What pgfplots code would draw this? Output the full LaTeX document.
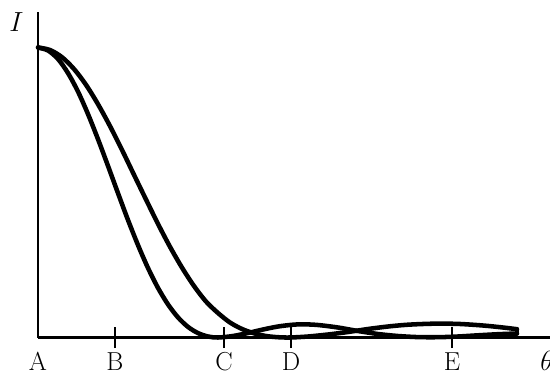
\documentclass[border=0pt]{standalone}
\usepackage{pgfplots}
\pgfplotsset{compat=1.18}
\begin{document}
\begin{tikzpicture}
\begin{axis}[
  x=0.75pt, y=0.75pt,
  xmin=0, xmax=512, ymin=0, ymax=325.5,
  axis lines=left,
  axis line style={-, line width=1.8pt, black},
  clip=false,
  ytick=\empty,
  xtick={77,186,253,414},
  xticklabels={B,C,D,E},
  extra x ticks={0},
  extra x tick labels={A},
  extra x tick style={major tick length=0pt, xticklabel style={yshift=-7.9pt}},
  tick align=center,
  major tick length=15.75pt,
  tick style={line width=1.8pt, black},
  xticklabel style={font=\fontsize{19.5}{23}\selectfont, anchor=base, yshift=-16.5pt},
]
% narrow pattern
\addplot[black, line width=3.4pt, smooth, line cap=round, line join=round] coordinates {
(0,290) (10,287) (20,278.5) (30,264.4) (40,245.9) (50,223.4) (60,198.3) (70,171.6)
(80,144.3) (90,117.5) (100,92.4) (110,69.5) (120,49.6) (130,33.1) (140,20.1)
(150,10.6) (160,4.4) (170,1) (180,0) (195,1.5) (210,4.5) (225,8) (240,11)
(255,12.8) (265,13.2) (280,12.5) (300,10) (320,6.5) (340,3.5) (360,1.5)
(380,0.4) (400,0.3) (420,1) (440,2.2) (460,3.3) (479,4)
};
% wide pattern
\addplot[black, line width=3.4pt, smooth, line cap=round, line join=round] coordinates {
(0,290) (12,287.5) (24,280.3) (36,268.5) (48,252.7) (60,233.3) (72,211.4)
(84,187.6) (96,162.7) (108,138) (120,113.6) (132,90.7) (144,69.9) (156,51.5)
(168,36) (180,24.5) (192,15) (204,8.5) (216,4.2) (228,1.5) (240,0.3) (252,0)
(270,1) (290,3) (310,5.5) (330,8.5) (350,11) (370,12.8) (395,13.8) (420,13.6)
(445,12) (465,10) (479,8.3)
};
\addplot[black, line width=3.4pt, line cap=round] coordinates {(479,4) (479,8.3)};
\node[font=\fontsize{19.5}{23}\selectfont, inner sep=0pt] at (axis cs:-21.5,315) {$I$};
\node[font=\fontsize{19.5}{23}\selectfont, inner sep=0pt, anchor=west] at (axis cs:502,-23.5) {$\theta$};
\end{axis}
\pgfresetboundingbox
\path[use as bounding box] (-28.5pt,-28.875pt) rectangle (384pt,253.125pt);
\end{tikzpicture}
\end{document}
